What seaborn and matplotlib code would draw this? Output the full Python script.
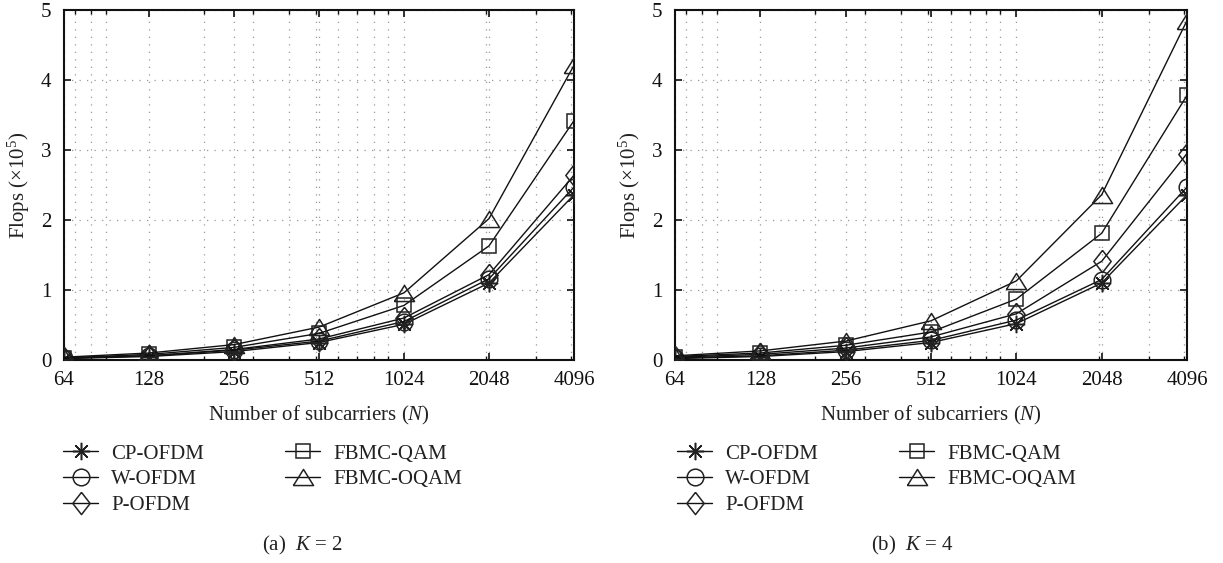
import matplotlib
matplotlib.use("Agg")
import matplotlib.pyplot as plt
import seaborn as sns
import numpy as np
from matplotlib.ticker import FixedLocator, NullFormatter

# ---------------- data ----------------
N = [64, 128, 256, 512, 1024, 2048, 4096]
schemes = ["CP-OFDM", "W-OFDM", "P-OFDM", "FBMC-QAM", "FBMC-OQAM"]

# K = 2  (Flops x 10^5)
k2_cp_ofdm = [0.02, 0.05, 0.12, 0.25, 0.51, 1.10, 2.36]
k2_w_ofdm = [0.025, 0.06, 0.14, 0.27, 0.55, 1.16, 2.47]
k2_p_ofdm = [0.03, 0.06, 0.15, 0.30, 0.60, 1.22, 2.64]
k2_fbmc_qam = [0.03, 0.08, 0.18, 0.38, 0.78, 1.63, 3.42]
k2_fbmc_oqam = [0.04, 0.10, 0.22, 0.47, 0.96, 2.02, 4.21]

# K = 4  (Flops x 10^5)
k4_cp_ofdm = [0.02, 0.05, 0.12, 0.25, 0.52, 1.10, 2.36]
k4_w_ofdm = [0.03, 0.06, 0.14, 0.28, 0.57, 1.15, 2.47]
k4_p_ofdm = [0.04, 0.08, 0.17, 0.33, 0.66, 1.41, 2.95]
k4_fbmc_qam = [0.05, 0.10, 0.21, 0.40, 0.87, 1.81, 3.78]
k4_fbmc_oqam = [0.06, 0.13, 0.27, 0.56, 1.13, 2.36, 4.85]

x_ticklabels = ["64", "128", "256", "512", "1024", "2048", "4096"]
x_minor = [70, 80, 90, 200, 300, 400, 500, 600, 700, 800, 900, 2000, 3000, 4000]
y_ticks = [0, 1, 2, 3, 4, 5]
captions = ["(a)  $K$ = 2", "(b)  $K$ = 4"]

# ---------------- style ----------------
sns.set_theme(style="ticks")
plt.rcParams["font.family"] = ["Liberation Serif", "DejaVu Serif"]
plt.rcParams["mathtext.fontset"] = "custom"
plt.rcParams["mathtext.rm"] = "Liberation Serif"
plt.rcParams["mathtext.it"] = "Liberation Serif:italic"
plt.rcParams["text.color"] = "#222222"
plt.rcParams["axes.labelcolor"] = "#222222"
plt.rcParams["xtick.color"] = "#111111"
plt.rcParams["ytick.color"] = "#111111"

star = (8, 2, 0)
tri = [(-1, -0.8), (1, -0.8), (0, 0.8), (-1, -0.8)]
diam = [(0, 1), (0.78, 0), (0, -1), (-0.78, 0), (0, 1)]
marker_specs = {
    "CP-OFDM": (star, 12.5),
    "W-OFDM": ("o", 12),
    "P-OFDM": (diam, 16),
    "FBMC-QAM": ("s", 10),
    "FBMC-OQAM": (tri, 14.5),
}

W, H = 1223, 563
fig = plt.figure(figsize=(W / 100, H / 100), dpi=100)

panels = [
    (64, 574, [k2_cp_ofdm, k2_w_ofdm, k2_p_ofdm, k2_fbmc_qam, k2_fbmc_oqam], 63, 302),
    (675, 1187, [k4_cp_ofdm, k4_w_ofdm, k4_p_ofdm, k4_fbmc_qam, k4_fbmc_oqam], 677, 913),
]
top, bottom = 10, 360

for (left, right, series, leg_x, cap_x), cap in zip(panels, captions):
    ax = fig.add_axes([left / W, 1 - bottom / H, (right - left) / W, (bottom - top) / H])
    for name, vals in zip(schemes, series):
        mk, ms = marker_specs[name]
        sns.lineplot(x=N, y=vals, ax=ax, color="#111111", linewidth=1.0,
                     marker=mk, markersize=ms, markerfacecolor="none",
                     markeredgecolor="#222222", markeredgewidth=1.1,
                     label=name, legend=False, zorder=3)
    ax.set_xscale("log", base=2)
    ax.set_xlim(64, 4096)
    ax.set_ylim(0, 5)
    ax.set_xticks(N)
    ax.set_xticklabels(x_ticklabels)
    ax.xaxis.set_minor_locator(FixedLocator(x_minor))
    ax.xaxis.set_minor_formatter(NullFormatter())
    ax.set_yticks(y_ticks)
    ax.set_yticklabels([str(v) for v in y_ticks])
    ax.tick_params(which="both", direction="in", top=True, right=True, labelsize=15)
    ax.tick_params(which="major", length=5, width=1.2)
    ax.tick_params(axis="x", which="major", pad=8)
    ax.tick_params(axis="y", which="major", pad=9)
    ax.tick_params(which="minor", length=3, width=1.0)
    ax.tick_params(axis="y", which="minor", left=False, right=False)
    for s in ax.spines.values():
        s.set_linewidth(1.5)
        s.set_color("#111111")
    gl = dict(color="#999999", linestyle=(0, (1, 5)), linewidth=0.9)
    ax.grid(True, which="major", axis="both", **gl)
    ax.grid(True, which="minor", axis="x", **gl)
    ax.set_axisbelow(True)

    ax.set_xlabel("Number of subcarriers ($N$)", fontsize=15)
    ax.xaxis.set_label_coords(0.5, -0.125)
    ax.set_ylabel("Flops (×10$^5$)", fontsize=15)
    ax.yaxis.set_label_coords(-0.062, 0.5)

    handles, labels = ax.get_legend_handles_labels()
    if ax.get_legend() is not None:
        ax.get_legend().remove()
    fig.legend(handles, labels, ncol=2, loc="upper left",
               bbox_to_anchor=(leg_x / W, 1 - 444 / H), frameon=False,
               fontsize=15, borderpad=0, borderaxespad=0, handlelength=1.7,
               handletextpad=0.6, columnspacing=3.9, labelspacing=0.3)
    fig.text(cap_x / W, 1 - 545 / H, cap, ha="center", va="center", fontsize=15)

fig.savefig("out.png", dpi=100)
